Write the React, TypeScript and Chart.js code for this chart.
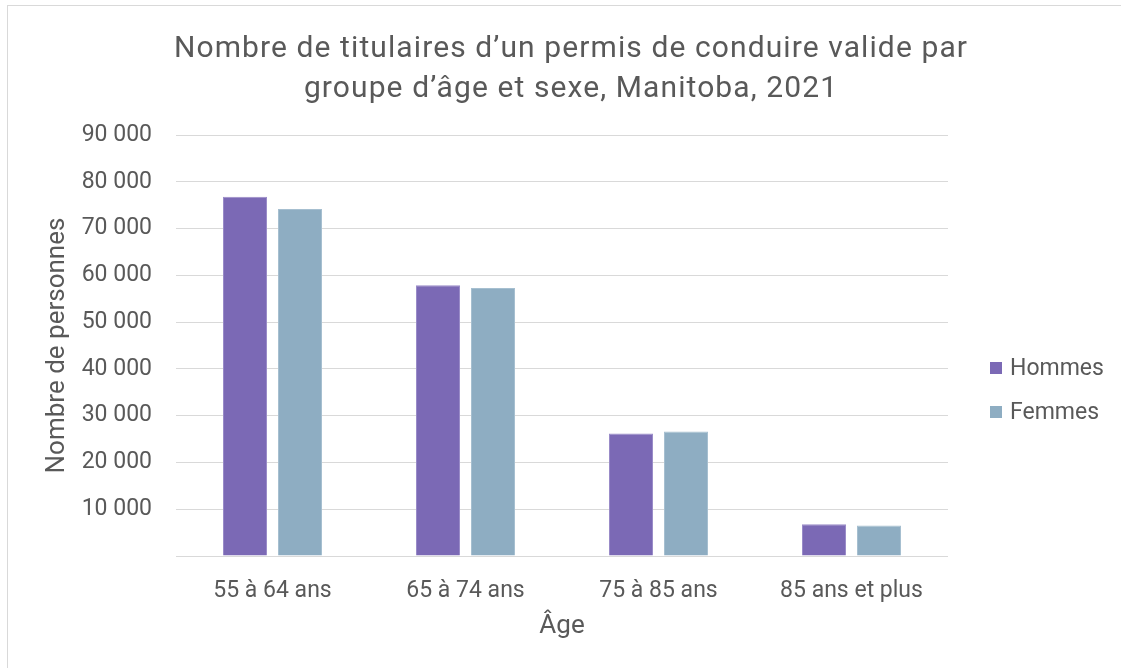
import React, { useEffect, useRef } from "react";
import { Chart, registerables } from "chart.js";

Chart.register(...registerables);

const categories = ["55 à 64 ans", "65 à 74 ans", "75 à 85 ans", "85 ans et plus"];
const hommes = [76800, 57900, 26200, 6800];
const femmes = [74200, 57300, 26600, 6500];
const seriesLabels = ["Hommes", "Femmes"];
const seriesColors = ["#7B69B5", "#8EADC2"];
const seriesBorders = ["#9a8cc8", "#a6bfd0"];
const titleLines = [
  "Nombre de titulaires d’un permis de conduire valide par",
  "groupe d’âge et sexe, Manitoba, 2021",
];
const yAxisTitle = "Nombre de personnes";
const xAxisTitle = "Âge";

const FONT = "Roboto";
const TEXT = "#595959";

const fmt = (v: number) => (v === 0 ? "" : String(v).replace(/\B(?=(\d{3})+(?!\d))/g, " "));

const decorPlugin = {
  id: "decor",
  afterDraw(chart: any) {
    const ctx = chart.ctx;
    ctx.save();
    // title
    ctx.fillStyle = TEXT;
    ctx.font = `30px ${FONT}`;
    (ctx as any).letterSpacing = "1.1px";
    ctx.textAlign = "center";
    ctx.textBaseline = "alphabetic";
    titleLines.forEach((t, i) => ctx.fillText(t, 571, 57 + i * 40));
    (ctx as any).letterSpacing = "0px";
    // legend
    ctx.font = `23px ${FONT}`;
    ctx.textAlign = "left";
    ctx.textBaseline = "middle";
    chart.data.datasets.forEach((ds: any, i: number) => {
      const cy = 368 + i * 44;
      ctx.fillStyle = ds.backgroundColor;
      ctx.fillRect(990, cy - 6, 12, 12);
      ctx.fillStyle = TEXT;
      ctx.fillText(ds.label, 1010, cy + 1);
    });
    ctx.restore();
  },
};

export default function App() {
  const ref = useRef<HTMLCanvasElement>(null);
  useEffect(() => {
    if (!ref.current) return;
    const chart = new Chart(ref.current, {
      type: "bar",
      data: {
        labels: categories,
        datasets: [hommes, femmes].map((d, i) => ({
          label: seriesLabels[i],
          data: d,
          backgroundColor: seriesColors[i],
          borderColor: seriesBorders[i],
          borderWidth: 1,
          barPercentage: 0.8,
          categoryPercentage: 0.57,
        })),
      },
      options: {
        responsive: false,
        animation: false,
        layout: { padding: { left: 10, right: 173, top: 135, bottom: 0 } },
        plugins: {
          legend: { display: false },
          title: { display: false },
          tooltip: { enabled: false },
        },
        scales: {
          x: {
            grid: { display: false },
            border: { display: false },
            ticks: { color: TEXT, font: { family: FONT, size: 23 }, padding: 13 },
            title: {
              display: true,
              text: xAxisTitle,
              color: TEXT,
              font: { family: FONT, size: 26 },
              padding: { top: 4, bottom: 26 },
            },
            afterFit(scale: any) {
              scale.height = 668 - 556;
            },
          },
          y: {
            min: 0,
            max: 90000,
            grid: { color: "#d9d9d9", lineWidth: 1, drawTicks: false },
            border: { display: false },
            ticks: {
              stepSize: 10000,
              color: TEXT,
              font: { family: FONT, size: 23 },
              padding: 24,
              callback: (v: any) => fmt(Number(v)),
            },
            title: {
              display: true,
              text: yAxisTitle,
              color: TEXT,
              font: { family: FONT, size: 26 },
              padding: { top: 32, bottom: 4 },
            },
            afterFit(scale: any) {
              scale.width = 176 - 10;
            },
          },
        },
      },
      plugins: [decorPlugin],
    });
    return () => chart.destroy();
  }, []);
  return (
    <>
      <div
        style={{
          position: "fixed",
          left: 7,
          top: 5,
          width: 1300,
          height: 900,
          border: "1px solid #d9d9d9",
          boxSizing: "border-box",
        }}
      />
      <div style={{ position: "fixed", left: 0, top: 0, width: 1121, height: 668 }}>
        <canvas ref={ref} width={1121} height={668} style={{ display: "block" }} />
      </div>
    </>
  );
}
